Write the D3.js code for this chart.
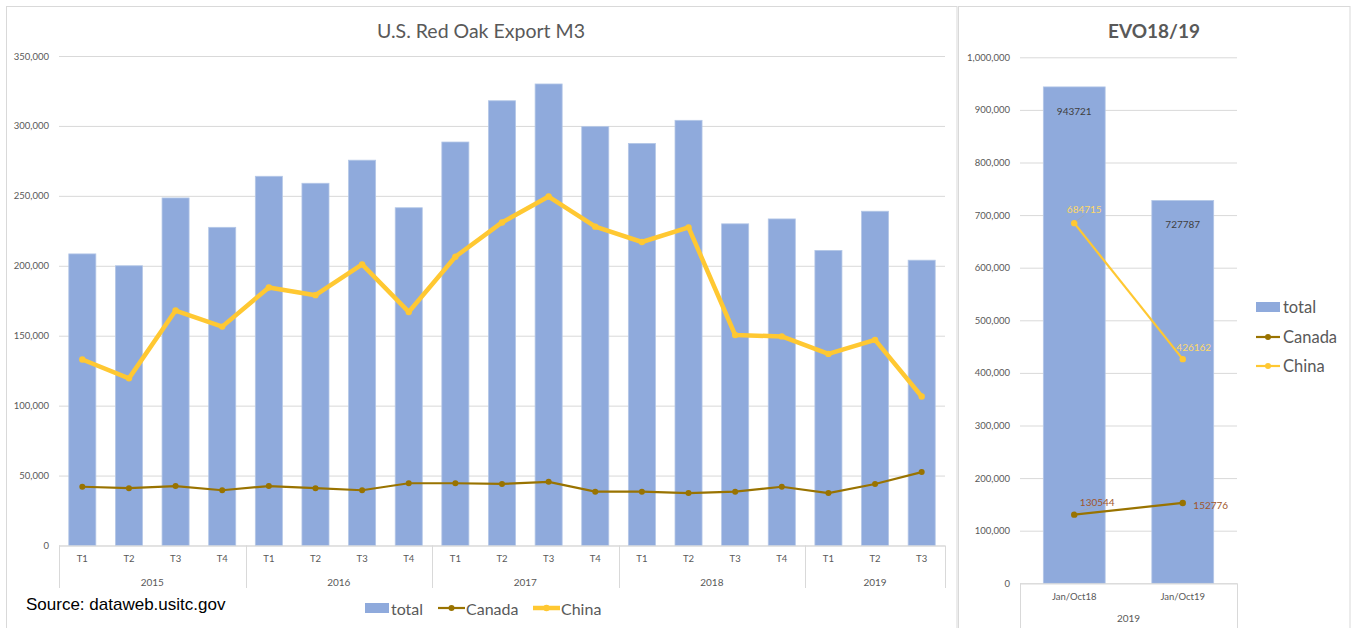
<!DOCTYPE html>
<html>
<head>
<meta charset="utf-8">
<script src="https://cdn.jsdelivr.net/npm/d3@7"></script>
<style>
  body { margin: 0; background: #fff; }
  text { font-family: Lato, "Open Sans", sans-serif; }
</style>
</head>
<body>
<svg id="chart"></svg>
<script>
// quarterly data, left chart
var quarters = ["T1","T2","T3","T4","T1","T2","T3","T4","T1","T2","T3","T4","T1","T2","T3","T4","T1","T2","T3"];
var years = ["2015","2015","2015","2015","2016","2016","2016","2016","2017","2017","2017","2017",
             "2018","2018","2018","2018","2019","2019","2019"];
var total = [208500, 200000, 248500, 227500, 264000, 259000, 275500, 241500, 288500, 318000,
             330000, 299500, 287500, 304000, 230000, 233500, 211000, 239000, 204000];
var canada = [42000, 41000, 42500, 39500, 42500, 41000, 39500, 44500, 44500, 44000,
              45500, 38500, 38500, 37500, 38500, 42000, 37500, 44000, 52500];
var china = [133000, 119500, 168000, 156500, 184500, 179000, 201000, 167000, 206500, 231000,
             249500, 228000, 217000, 227500, 150500, 149500, 137000, 147000, 106500];
var leftTicks = [0, 50000, 100000, 150000, 200000, 250000, 300000, 350000];

// period comparison, right chart
var periods = ["Jan/Oct18", "Jan/Oct19"];
var periodGroup = "2019";
var evoTotal = [943721, 727787];
var evoCanada = [130544, 152776];
var evoChina = [684715, 426162];
var rightTicks = [0, 100000, 200000, 300000, 400000, 500000, 600000, 700000, 800000, 900000, 1000000];

var W = 1358, H = 628;
var barColor = "#8FAADC", canadaColor = "#997300", chinaColor = "#FFC832";
var gridColor = "#D9D9D9", labelColor = "#595959";
var fmt = d3.format(",");

var svg = d3.select("#chart").attr("width", W).attr("height", H);
svg.append("rect").attr("width", W).attr("height", H).attr("fill", "#fff");

// chart frames
svg.append("rect").attr("x", 6.5).attr("y", 6.5).attr("width", 950.5).attr("height", 640)
    .attr("fill", "none").attr("stroke", gridColor);
svg.append("rect").attr("x", 958.5).attr("y", 6.5).attr("width", 391.5).attr("height", 640)
    .attr("fill", "none").attr("stroke", gridColor);

function drawText(g, x, y, str, cfg) {
    return g.append("text")
        .attr("x", x).attr("y", y)
        .attr("text-anchor", cfg.anchor || "start")
        .attr("dominant-baseline", "central")
        .attr("fill", cfg.color || labelColor)
        .style("font-size", cfg.size)
        .style("font-weight", cfg.weight || "normal")
        .style("font-family", cfg.font)
        .text(str);
}

function yAxisGrid(g, y, ticks, x0, x1, labelX) {
    g.append("g")
        .attr("transform", "translate(" + x0 + ",0)")
        .call(d3.axisLeft(y).tickValues(ticks).tickSize(-(x1 - x0)).tickFormat(""))
        .call(function(a) {
            a.select(".domain").remove();
            a.selectAll("line").attr("stroke", gridColor);
        });
    g.append("g")
        .attr("transform", "translate(" + labelX + ",0)")
        .call(d3.axisLeft(y).tickValues(ticks).tickSize(0).tickPadding(0).tickFormat(fmt))
        .call(function(a) {
            a.select(".domain").remove();
            a.selectAll("text").attr("fill", labelColor).style("font-size", "9.5px")
                .style("font-family", "Lato, sans-serif");
        });
}

// ---------- left chart ----------
(function() {
    var x0 = 59, x1 = 945, yTop = 56, yBase = 545.5;
    var g = svg.append("g");
    var x = d3.scaleBand().domain(d3.range(quarters.length)).range([x0, x1])
        .paddingInner(0.42).paddingOuter(0.21);
    var y = d3.scaleLinear().domain([0, 350000]).range([yBase, yTop]);

    drawText(g, 481, 30, "U.S. Red Oak Export M3", { size: "19.5px", anchor: "middle" });

    yAxisGrid(g, y, leftTicks, x0, x1, 49);

    g.selectAll("rect.bar").data(total).enter().append("rect")
        .attr("class", "bar")
        .attr("x", function(d, i) { return x(i); })
        .attr("width", x.bandwidth())
        .attr("y", function(d) { return y(d); })
        .attr("height", function(d) { return yBase - y(d); })
        .attr("fill", barColor)
        .attr("stroke", "#B4C7E7").attr("stroke-width", 0.8);

    // x axis
    g.append("g")
        .attr("transform", "translate(0," + yBase + ")")
        .call(d3.axisBottom(x).tickSize(0).tickPadding(10).tickFormat(function(i) { return quarters[i]; }))
        .call(function(a) {
            a.select(".domain").attr("stroke", gridColor).attr("d", "M" + x0 + ",0.5H" + x1);
            a.selectAll("text").attr("fill", labelColor).style("font-size", "9.5px")
                .style("font-family", "Lato, sans-serif");
        });

    var half = x.step() * x.paddingInner() / 2;
    var groups = d3.groups(d3.range(years.length), function(i) { return years[i]; });
    var bounds = [x0];
    groups.forEach(function(gr) {
        var last = gr[1][gr[1].length - 1];
        bounds.push(x(last) + x.bandwidth() + half);
        var xa = x(gr[1][0]), xb = x(last) + x.bandwidth();
        drawText(g, (xa + xb) / 2, 582, gr[0], { size: "10px", anchor: "middle" });
    });
    bounds[bounds.length - 1] = x1;
    g.selectAll("line.sep").data(bounds).enter().append("line")
        .attr("x1", function(d) { return Math.round(d) + 0.5; })
        .attr("x2", function(d) { return Math.round(d) + 0.5; })
        .attr("y1", yBase).attr("y2", 588)
        .attr("stroke", gridColor);

    var cx = function(d, i) { return x(i) + x.bandwidth() / 2; };
    var line = d3.line().x(cx).y(function(d) { return y(d); });

    g.append("path").datum(canada).attr("d", line)
        .attr("fill", "none").attr("stroke", canadaColor).attr("stroke-width", 2.2);
    g.selectAll("circle.can").data(canada).enter().append("circle")
        .attr("cx", cx).attr("cy", function(d) { return y(d); }).attr("r", 3)
        .attr("fill", canadaColor);

    g.append("path").datum(china).attr("d", line)
        .attr("fill", "none").attr("stroke", chinaColor).attr("stroke-width", 4.5)
        .attr("stroke-linejoin", "round");
    g.selectAll("circle.chn").data(china).enter().append("circle")
        .attr("cx", cx).attr("cy", function(d) { return y(d); }).attr("r", 3.2)
        .attr("fill", chinaColor);

    // source + legend
    drawText(g, 26, 604, "Source: dataweb.usitc.gov",
        { size: "17px", color: "#000", font: "'Liberation Sans', Arial, sans-serif" });

    var ly = 608;
    g.append("rect").attr("x", 365).attr("y", ly - 5).attr("width", 24).attr("height", 10).attr("fill", barColor);
    drawText(g, 391, ly, "total", { size: "16px" });
    g.append("line").attr("x1", 438).attr("x2", 465).attr("y1", ly).attr("y2", ly)
        .attr("stroke", canadaColor).attr("stroke-width", 2.2);
    g.append("circle").attr("cx", 451.5).attr("cy", ly).attr("r", 3).attr("fill", canadaColor);
    drawText(g, 466, ly, "Canada", { size: "16px" });
    g.append("line").attr("x1", 533).attr("x2", 560).attr("y1", ly).attr("y2", ly)
        .attr("stroke", chinaColor).attr("stroke-width", 4.5);
    g.append("circle").attr("cx", 546.5).attr("cy", ly).attr("r", 3.2).attr("fill", chinaColor);
    drawText(g, 561, ly, "China", { size: "16px" });
})();

// ---------- right chart ----------
(function() {
    var x0 = 1020, x1 = 1237, yTop = 57.3, yBase = 583.3;
    var g = svg.append("g");
    var x = d3.scaleBand().domain(d3.range(periods.length)).range([x0, x1])
        .paddingInner(0.43).paddingOuter(0.215);
    var y = d3.scaleLinear().domain([0, 1000000]).range([yBase, yTop]);

    drawText(g, 1154, 30, "EVO18/19", { size: "19px", weight: "bold" , anchor: "middle" });

    yAxisGrid(g, y, rightTicks, x0, x1, 1010);

    g.selectAll("rect.bar").data(evoTotal).enter().append("rect")
        .attr("class", "bar")
        .attr("x", function(d, i) { return x(i); })
        .attr("width", x.bandwidth())
        .attr("y", function(d) { return y(d); })
        .attr("height", function(d) { return yBase - y(d); })
        .attr("fill", barColor)
        .attr("stroke", "#B4C7E7").attr("stroke-width", 0.8);

    var cx = function(d, i) { return x(i) + x.bandwidth() / 2; };

    g.selectAll("text.tot").data(evoTotal).enter().append("text")
        .attr("x", cx).attr("y", function(d) { return y(d) + 24; })
        .attr("text-anchor", "middle").attr("dominant-baseline", "central")
        .attr("fill", "#404040").style("font-size", "10px")
        .text(function(d) { return d; });

    // x axis
    g.append("g")
        .attr("transform", "translate(0," + yBase + ")")
        .call(d3.axisBottom(x).tickSize(0).tickPadding(10).tickFormat(function(i) { return periods[i]; }))
        .call(function(a) {
            a.select(".domain").attr("stroke", gridColor).attr("d", "M" + x0 + ",0.5H" + x1);
            a.selectAll("text").attr("fill", labelColor).style("font-size", "9.5px")
                .style("font-family", "Lato, sans-serif");
        });
    g.selectAll("line.sep").data([x0, x1]).enter().append("line")
        .attr("x1", function(d) { return d + 0.5; }).attr("x2", function(d) { return d + 0.5; })
        .attr("y1", yBase).attr("y2", H)
        .attr("stroke", gridColor);
    drawText(g, (x0 + x1) / 2, 618, periodGroup, { size: "10px", anchor: "middle" });

    var line = d3.line().x(cx).y(function(d) { return y(d); });

    g.append("path").datum(evoCanada).attr("d", line)
        .attr("fill", "none").attr("stroke", canadaColor).attr("stroke-width", 2.2);
    g.selectAll("circle.can").data(evoCanada).enter().append("circle")
        .attr("cx", cx).attr("cy", function(d) { return y(d); }).attr("r", 3.2)
        .attr("fill", canadaColor);

    g.append("path").datum(evoChina).attr("d", line)
        .attr("fill", "none").attr("stroke", chinaColor).attr("stroke-width", 2.2);
    g.selectAll("circle.chn").data(evoChina).enter().append("circle")
        .attr("cx", cx).attr("cy", function(d) { return y(d); }).attr("r", 3.2)
        .attr("fill", chinaColor);

    // data labels for the lines, with small leader lines on the first point
    var chinaOff = [[10, -14], [11, -12]], canadaOff = [[23, -13], [28, 2]];
    var chinaLab = "#FFD966", canadaLab = "#A0562C";
    evoChina.forEach(function(d, i) {
        var px = cx(d, i), py = y(d);
        if (i === 0) g.append("line").attr("x1", px + 2).attr("y1", py - 2).attr("x2", px + 10).attr("y2", py - 8)
            .attr("stroke", "#A6A6A6").attr("stroke-width", 0.7);
        drawText(g, px + chinaOff[i][0], py + chinaOff[i][1], d, { size: "10px", color: chinaLab, anchor: "middle" });
    });
    evoCanada.forEach(function(d, i) {
        var px = cx(d, i), py = y(d);
        if (i === 0) g.append("line").attr("x1", px + 2).attr("y1", py - 2).attr("x2", px + 20).attr("y2", py - 8)
            .attr("stroke", "#A6A6A6").attr("stroke-width", 0.7);
        drawText(g, px + canadaOff[i][0], py + canadaOff[i][1], d, { size: "10px", color: canadaLab, anchor: "middle" });
    });

    // legend
    var lx = 1256, rows = [307, 337, 366];
    g.append("rect").attr("x", lx).attr("y", rows[0] - 5).attr("width", 24).attr("height", 10).attr("fill", barColor);
    drawText(g, lx + 27, rows[0], "total", { size: "16.5px" });
    g.append("line").attr("x1", lx).attr("x2", lx + 24).attr("y1", rows[1]).attr("y2", rows[1])
        .attr("stroke", canadaColor).attr("stroke-width", 2.2);
    g.append("circle").attr("cx", lx + 12).attr("cy", rows[1]).attr("r", 3).attr("fill", canadaColor);
    drawText(g, lx + 27, rows[1], "Canada", { size: "16.5px" });
    g.append("line").attr("x1", lx).attr("x2", lx + 24).attr("y1", rows[2]).attr("y2", rows[2])
        .attr("stroke", chinaColor).attr("stroke-width", 2.2);
    g.append("circle").attr("cx", lx + 12).attr("cy", rows[2]).attr("r", 3).attr("fill", chinaColor);
    drawText(g, lx + 27, rows[2], "China", { size: "16.5px" });
})();
</script>
</body>
</html>
